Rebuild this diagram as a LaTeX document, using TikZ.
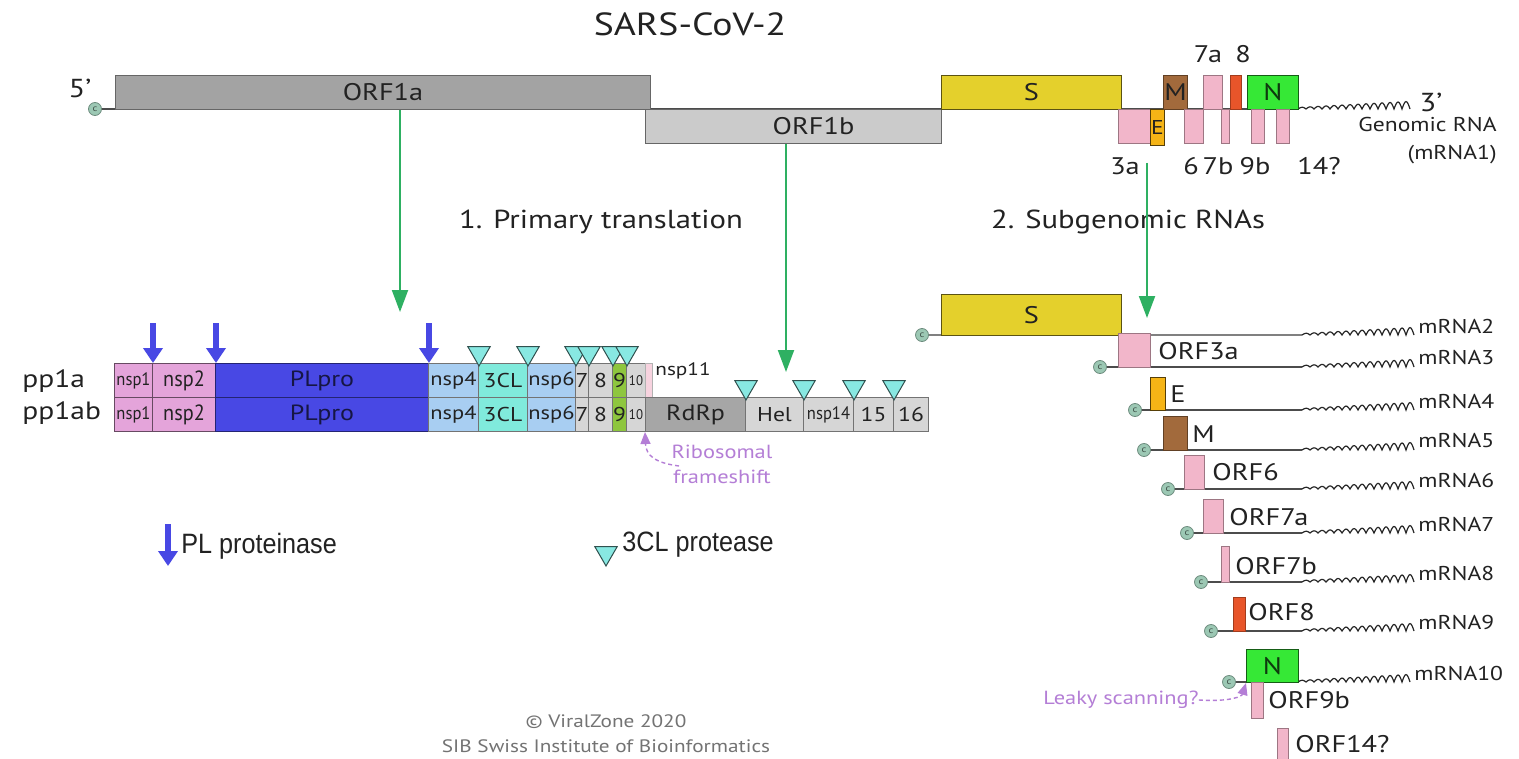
\documentclass[tikz,border=0pt]{standalone}
\usepackage{fontspec}
\setmainfont[FakeStretch=1.18]{PT Sans}
\newfontfamily\narrowfont[FakeStretch=0.92]{PT Sans}
\newfontfamily\legendfont[FakeStretch=0.9]{Liberation Sans}
\usetikzlibrary{positioning,arrows.meta,shapes.geometric}

\definecolor{orfdark}{HTML}{A3A3A3}
\definecolor{orflight}{HTML}{CBCBCB}
\definecolor{spikey}{HTML}{E4D02C}
\definecolor{envo}{HTML}{F5B416}
\definecolor{membb}{HTML}{A26A3C}
\definecolor{accp}{HTML}{F2B6CA}
\definecolor{orfred}{HTML}{E8552A}
\definecolor{nuclg}{HTML}{36E836}
\definecolor{nsppink}{HTML}{E4A4DA}
\definecolor{plblue}{HTML}{4848E4}
\definecolor{nspblue}{HTML}{A8CEF2}
\definecolor{clcyan}{HTML}{80EADC}
\definecolor{nspgrey}{HTML}{D6D6D6}
\definecolor{nspgreen}{HTML}{8EC63E}
\definecolor{rdrpgrey}{HTML}{A6A6A6}
\definecolor{tricyan}{HTML}{88E8E2}
\definecolor{arrgreen}{HTML}{2EB062}
\definecolor{fspurple}{HTML}{B47ED6}
\definecolor{capgreen}{HTML}{9CC8B4}
\definecolor{inkgrey}{HTML}{222222}

\begin{document}
\begin{tikzpicture}[x=0.5pt, y=-0.5pt,
        sz/.style 2 args={minimum width=#1*0.5pt, minimum height=#2*0.5pt, anchor=north west},
        GENE/.style={rectangle, draw=black!60, line width=0.5pt, inner sep=0pt, text=inkgrey, font=\fontsize{12}{14}\selectfont},
        ORFA/.style={GENE, fill=orfdark},
        ORFB/.style={GENE, fill=orflight},
        SPIKE/.style={GENE, fill=spikey, draw=spikey!40!black},
        ENV/.style={GENE, fill=envo, draw=envo!35!black, font=\fontsize{10}{12}\selectfont},
        MEMB/.style={GENE, fill=membb, draw=membb!60!black},
        ACC/.style={GENE, fill=accp, draw=accp!65!black},
        RED/.style={GENE, fill=orfred, draw=orfred!70!black},
        NUCL/.style={GENE, fill=nuclg, draw=nuclg!40!black, text=nuclg!25!black},
        SEG/.style={GENE, draw=black!55, font=\fontsize{10}{12}\selectfont},
        NARROW/.style={font=\narrowfont\fontsize{9}{10}\selectfont},
        NSPP/.style={SEG, fill=nsppink, draw=nsppink!45!black},
        PLP/.style={SEG, fill=plblue, draw=plblue!50!black, text=plblue!30!black, font=\fontsize{11}{13}\selectfont},
        NSPB/.style={SEG, fill=nspblue, font=\fontsize{9.5}{11}\selectfont},
        CL/.style={SEG, fill=clcyan},
        NSPG/.style={SEG, fill=nspgrey},
        NSPN/.style={SEG, fill=nspgreen},
        RDRP/.style={SEG, fill=rdrpgrey, font=\fontsize{11}{13}\selectfont},
        CAPC/.style={circle, fill=capgreen, draw=capgreen!70!black, line width=0.4pt, minimum size=6.5pt, inner sep=0pt, text=capgreen!40!black, font=\fontsize{4.5}{5}\selectfont},
        RNA/.style={draw=black!70, line width=0.8pt},
        PLCUT/.style={draw=plblue, line width=3pt, -{Triangle[width=9.5pt,length=7.5pt]}},
        CLCUT/.style={regular polygon, regular polygon sides=3, shape border rotate=180, minimum size=13pt, inner sep=0pt, fill=tricyan, draw=tricyan!35!black, line width=0.5pt, anchor=south, yshift=-2pt},
        GREENARR/.style={draw=arrgreen, line width=1pt, -{Triangle[width=8pt,length=11pt]}},
        FSARR/.style={draw=fspurple, line width=0.7pt, dash pattern=on 2pt off 1.5pt, -{Triangle[width=5pt,length=6pt]}},
        TXT/.style={inner sep=0pt, text=inkgrey, font=\fontsize{12}{14}\selectfont},
        MLAB/.style={TXT, anchor=west, font=\fontsize{10}{12}\selectfont},
        ORFLAB/.style={TXT, anchor=west},
        PURP/.style={TXT, text=fspurple, font=\fontsize{9.5}{12.5}\selectfont},
        LEGEND/.style={TXT, anchor=west, font=\legendfont\fontsize{14}{16}\selectfont},
        COPY/.style={TXT, text=black!55, font=\fontsize{9}{11}\selectfont},
        polytail/.pic={\draw[black!85, line width=0.6pt] plot[domain=0:112, samples=113] (\x,{-(1.5+0.055*\x)*abs(sin(\x*22.5))});},
    ]
    \useasboundingbox (0,0) rectangle (1519,759);
    \fill[white] (0,0) rectangle (1519,759);

    \node[TXT, font=\fontsize{16}{19}\selectfont] (title) at (690,24) {SARS-CoV-2};

    \node[CAPC] (cap1) at (95,109) {c};
    \coordinate (tail1) at (1298,109);
    \draw[RNA] (cap1) -- (tail1);
    \pic at (tail1) {polytail};
    \node[TXT, font=\fontsize{13}{15}\selectfont] (five) at (80,88) {5'};
    \node[TXT, font=\fontsize{13}{15}\selectfont] (three) at (1431,102) {3'};
    \node[TXT, align=right, anchor=east, font=\fontsize{10}{14}\selectfont] (grna) at (1497,141) {Genomic RNA\\(mRNA1)};

    \node[ORFA, sz={535}{34}] (orf1a) at (115,75) {ORF1a};
    \node[ORFB, sz={296}{34}] (orf1b) at (645,109) {\hspace*{20pt}ORF1b};
    \node[SPIKE, sz={180}{34}] (spike) at (941,75) {S};
    \node[ACC, sz={32}{34}] (orf3a) at (1118,109) {};
    \node[ENV, sz={14}{36}] (enve) at (1150,109) {E};
    \node[MEMB, sz={24}{34}] (memb) at (1163,75) {M};
    \node[ACC, sz={19}{34}] (orf6) at (1184,109) {};
    \node[ACC, sz={19}{34}] (orf7a) at (1203,75) {};
    \node[ACC, sz={8}{34}] (orf7b) at (1221,109) {};
    \node[RED, sz={11}{34}] (orf8) at (1230,75) {};
    \node[NUCL, sz={51}{34}] (nucl) at (1247,75) {N};
    \node[ACC, sz={13}{34}] (orf9b) at (1251,109) {};
    \node[ACC, sz={13}{34}] (orf14) at (1276,109) {};

    \node[TXT] (l7a) at (1208,54) {7a};
    \node[TXT] (l8) at (1243,54) {8};
    \node[TXT] (l3a) at (1125,166) {3a};
    \node[TXT] (l6) at (1191,166) {6};
    \node[TXT] (l7b) at (1218,166) {7b};
    \node[TXT] (l9b) at (1255,166) {9b};
    \node[TXT] (l14) at (1319,166) {14?};

    \node[TXT, font=\fontsize{13}{15}\selectfont] (prim) at (601,222) {1. Primary translation};
    \node[TXT, font=\fontsize{13}{15}\selectfont] (subg) at (1128,222) {2. Subgenomic RNAs};

    \coordinate (tipa) at (400,312);
    \coordinate (tipb) at (786,372);
    \coordinate (froms) at (1147,163);
    \coordinate (tips) at (1147,318);
    \draw[GREENARR] (orf1a.south -| tipa) -- (tipa);
    \draw[GREENARR] (orf1b.south -| tipb) -- (tipb);
    \draw[GREENARR] (froms) -- (tips);

    \node[TXT, anchor=west, font=\fontsize{12.5}{14}\selectfont] (pp1a) at (22,381) {pp1a};
    \node[TXT, anchor=west, font=\fontsize{12.5}{14}\selectfont] (pp1ab) at (22,413) {pp1ab};

    \node[NSPP, NARROW, sz={38}{34}] (nsp1a) at (114,363) {nsp1};
    \node[NSPP, font=\narrowfont\fontsize{11}{12}\selectfont, sz={63}{34}] (nsp2a) at (152,363) {nsp2};
    \node[PLP, sz={213}{34}] (plproa) at (215,363) {PLpro};
    \node[NSPB, sz={50}{34}] (nsp4a) at (428,363) {nsp4};
    \node[CL, sz={49}{34}] (cla) at (478,363) {3CL};
    \node[NSPB, sz={48}{34}] (nsp6a) at (527,363) {nsp6};
    \node[NSPG, sz={13}{34}] (nsp7a) at (575,363) {7};
    \node[NSPG, sz={24}{34}] (nsp8a) at (588,363) {8};
    \node[NSPN, sz={14}{34}] (nsp9a) at (612,363) {9};
    \node[NSPG, font=\narrowfont\fontsize{7}{8}\selectfont, sz={19}{34}] (nsp10a) at (626,363) {10};
    \node[SEG, fill=accp!60, draw=black!30, sz={7}{34}] (nsp11a) at (645,363) {};
    \node[TXT, anchor=west, font=\fontsize{9}{11}\selectfont] (nsp11lab) at (655,371) {nsp11};

    \node[NSPP, NARROW, sz={38}{34}] (nsp1b) at (114,397) {nsp1};
    \node[NSPP, font=\narrowfont\fontsize{11}{12}\selectfont, sz={63}{34}] (nsp2b) at (152,397) {nsp2};
    \node[PLP, sz={213}{34}] (plprob) at (215,397) {PLpro};
    \node[NSPB, sz={50}{34}] (nsp4b) at (428,397) {nsp4};
    \node[CL, sz={49}{34}] (clb) at (478,397) {3CL};
    \node[NSPB, sz={48}{34}] (nsp6b) at (527,397) {nsp6};
    \node[NSPG, sz={13}{34}] (nsp7b) at (575,397) {7};
    \node[NSPG, sz={24}{34}] (nsp8b) at (588,397) {8};
    \node[NSPN, sz={14}{34}] (nsp9b) at (612,397) {9};
    \node[NSPG, font=\narrowfont\fontsize{7}{8}\selectfont, sz={19}{34}] (nsp10b) at (626,397) {10};
    \node[RDRP, sz={100}{34}] (rdrp) at (645,397) {RdRp};
    \node[NSPG, sz={58}{34}] (hel) at (745,397) {Hel};
    \node[NSPG, NARROW, sz={50}{34}] (nsp14) at (803,397) {nsp14};
    \node[NSPG, sz={40}{34}] (nsp15) at (853,397) {15};
    \node[NSPG, sz={35}{34}] (nsp16) at (893,397) {16};

    \draw[PLCUT] ([yshift=20pt]nsp1a.north east) -- (nsp1a.north east);
    \draw[PLCUT] ([yshift=20pt]nsp2a.north east) -- (nsp2a.north east);
    \draw[PLCUT] ([yshift=20pt]plproa.north east) -- (plproa.north east);

    \node[CLCUT] (cut1) at (nsp4a.north east) {};
    \node[CLCUT] (cut2) at (cla.north east) {};
    \node[CLCUT] (cut3) at (nsp6a.north east) {};
    \node[CLCUT] (cut4) at (nsp7a.north east) {};
    \node[CLCUT] (cut5) at (nsp8a.north east) {};
    \node[CLCUT] (cut6) at (nsp9a.north east) {};
    \node[CLCUT] (cut7) at (rdrp.north east) {};
    \node[CLCUT] (cut8) at (hel.north east) {};
    \node[CLCUT] (cut9) at (nsp14.north east) {};
    \node[CLCUT] (cut10) at (nsp15.north east) {};

    \node[PURP, align=center] (fslab) at (722,464) {Ribosomal\\frameshift};
    \coordinate (fsfrom) at (679,466);
    \draw[FSARR] (fsfrom) .. controls (656,463) and (646,456) .. (rdrp.south west);

    \coordinate (lgpl) at (168,566);
    \draw[PLCUT] ([yshift=21pt]lgpl) -- (lgpl);
    \node[LEGEND] (lgpltxt) at (181,546) {PL proteinase};
    \node[CLCUT] (lgcl) at (606,563) {};
    \node[LEGEND] (lgcltxt) at (622,545) {3CL protease};

    \node[COPY] (copy1) at (606,722) {© ViralZone 2020};
    \node[COPY] (copy2) at (606,746) {SIB Swiss Institute of Bioinformatics};

    \node[CAPC] (cap2) at (922,335) {c};
    \coordinate (tail2) at (1302,335);
    \draw[RNA, draw=black!50, line width=1.2pt] (cap2) -- (tail2);
    \pic at (tail2) {polytail};
    \node[SPIKE, sz={180}{41}] (spike2) at (941,294) {S};
    \node[MLAB] (mrna2) at (1418,326) {mRNA2};

    \node[CAPC] (cap3) at (1100,367) {c};
    \coordinate (tail3) at (1302,367);
    \draw[RNA] (cap3) -- (tail3);
    \pic at (tail3) {polytail};
    \node[ACC, sz={32}{34}] (orf3a3) at (1118,333) {};
    \node[ORFLAB] (orf3alab) at (1158,351) {ORF3a};
    \node[MLAB] (mrna3) at (1418,358) {mRNA3};

    \node[CAPC] (cap4) at (1135,410) {c};
    \coordinate (tail4) at (1302,410);
    \draw[RNA] (cap4) -- (tail4);
    \pic at (tail4) {polytail};
    \node[ENV, sz={15}{33}] (enve4) at (1150,377) {};
    \node[ORFLAB] (elab) at (1170,394) {E};
    \node[MLAB] (mrna4) at (1418,401) {mRNA4};

    \node[CAPC] (cap5) at (1144,450) {c};
    \coordinate (tail5) at (1302,450);
    \draw[RNA] (cap5) -- (tail5);
    \pic at (tail5) {polytail};
    \node[MEMB, sz={24}{34}] (memb5) at (1163,416) {};
    \node[ORFLAB] (mlab) at (1192,434) {M};
    \node[MLAB] (mrna5) at (1418,441) {mRNA5};

    \node[CAPC] (cap6) at (1168,489) {c};
    \coordinate (tail6) at (1302,489);
    \draw[RNA] (cap6) -- (tail6);
    \pic at (tail6) {polytail};
    \node[ACC, sz={20}{34}] (orf6b) at (1184,455) {};
    \node[ORFLAB] (orf6lab) at (1212,472) {ORF6};
    \node[MLAB] (mrna6) at (1418,480) {mRNA6};

    \node[CAPC] (cap7) at (1187,533) {c};
    \coordinate (tail7) at (1302,533);
    \draw[RNA] (cap7) -- (tail7);
    \pic at (tail7) {polytail};
    \node[ACC, sz={20}{34}] (orf7ab) at (1203,499) {};
    \node[ORFLAB] (orf7alab) at (1229,517) {ORF7a};
    \node[MLAB] (mrna7) at (1418,524) {mRNA7};

    \node[CAPC] (cap8) at (1201,582) {c};
    \coordinate (tail8) at (1302,582);
    \draw[RNA] (cap8) -- (tail8);
    \pic at (tail8) {polytail};
    \node[ACC, sz={8}{36}] (orf7bb) at (1221,546) {};
    \node[ORFLAB] (orf7blab) at (1235,566) {ORF7b};
    \node[MLAB] (mrna8) at (1418,573) {mRNA8};

    \node[CAPC] (cap9) at (1211,631) {c};
    \coordinate (tail9) at (1302,631);
    \draw[RNA] (cap9) -- (tail9);
    \pic at (tail9) {polytail};
    \node[RED, sz={12}{34}] (orf8b) at (1233,597) {};
    \node[ORFLAB] (orf8lab) at (1248,612) {ORF8};
    \node[MLAB] (mrna9) at (1418,622) {mRNA9};

    \node[CAPC] (cap10) at (1229,682) {c};
    \coordinate (tail10) at (1298,682);
    \draw[RNA] (cap10) -- (tail10);
    \pic at (tail10) {polytail};
    \node[NUCL, sz={52}{33}] (nucl10) at (1246,649) {N};
    \node[ACC, sz={12}{36}] (orf9bb) at (1251,682) {};
    \node[ORFLAB] (orf9blab) at (1268,700) {ORF9b};
    \node[ACC, sz={11}{31}] (orf14b) at (1277,728) {};
    \node[ORFLAB] (orf14lab) at (1295,744) {ORF14?};
    \node[MLAB] (mrna10) at (1414,673) {mRNA10};

    \node[PURP] (leaky) at (1121,700) {Leaky scanning?};
    \draw[FSARR] (leaky.east) .. controls (1232,702) and (1242,696) .. (nucl10.south west);
\end{tikzpicture}
\end{document}
